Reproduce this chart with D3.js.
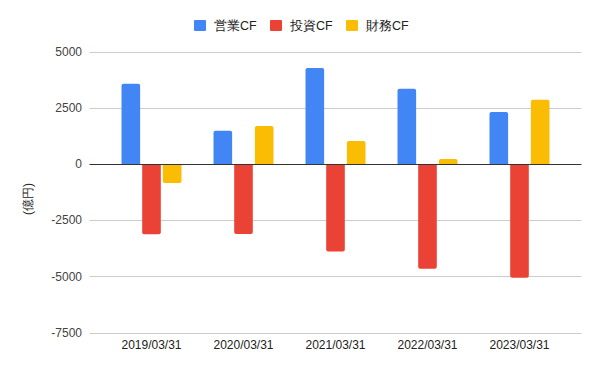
<html>
<head>
<meta charset="utf-8">
<script src="https://cdn.jsdelivr.net/npm/d3@7"></script>
<style>
  * { margin: 0; padding: 0; }
  body { background: #fff; }
  text { font-family: Arial, "Liberation Sans", sans-serif; }
</style>
</head>
<body>
<svg id="viz"></svg>
<script>
// data
var categories = ["2019/03/31", "2020/03/31", "2021/03/31", "2022/03/31", "2023/03/31"];
var seriesNames = ["営業CF", "投資CF", "財務CF"];
var eigyo = [3560, 1470, 4270, 3340, 2310];
var toushi = [-3130, -3120, -3900, -4660, -5060];
var zaimu = [-850, 1690, 1020, 220, 2850];
var yTicks = [-7500, -5000, -2500, 0, 2500, 5000];
var colors = ["#4285f4", "#ea4335", "#fbbc04"];

var values = [eigyo, toushi, zaimu];
var w = 600, h = 371;
var fontFam = "Arial, 'Liberation Sans', sans-serif";

var svg = d3.select("#viz").attr("width", w).attr("height", h);

var y = d3.scaleLinear().domain([-7500, 5000]).range([332.5, 51.5]);
var x0 = d3.scaleBand().domain(categories).range([89.5, 581.5])
    .paddingInner(0.348).paddingOuter(0.348);
var x1 = d3.scaleBand().domain(seriesNames).range([0, x0.bandwidth()]).paddingInner(0.1);

// gridlines
svg.append("g").selectAll("line").data(yTicks.filter(d => d != 0)).join("line")
    .attr("x1", 89.5).attr("x2", 581.5)
    .attr("y1", d => Math.round(y(d)) + 0.5).attr("y2", d => Math.round(y(d)) + 0.5)
    .attr("stroke", "#cccccc").attr("stroke-width", 1);

// y tick labels
var yAxis = d3.axisLeft(y).tickValues(yTicks).tickSize(0).tickPadding(0)
    .tickFormat(d => String(d));
var ya = svg.append("g").attr("transform", "translate(82,0)").call(yAxis);
ya.select(".domain").remove();
ya.selectAll("text").attr("font-size", 12).attr("fill", "#444")
    .attr("font-family", fontFam);

// bars with rounded far end
function barPath(xp, bw, v) {
    var r = 2;
    var y0 = y(0), y1 = y(v);
    var s = v >= 0 ? 1 : -1;
    return "M" + xp + "," + y0 + "V" + (y1 + s * r) + "Q" + xp + "," + y1 + " " + (xp + r) + "," + y1 +
        "H" + (xp + bw - r) + "Q" + (xp + bw) + "," + y1 + " " + (xp + bw) + "," + (y1 + s * r) + "V" + y0 + "Z";
}

var bars = [];
categories.forEach(function (c, i) {
    seriesNames.forEach(function (s, j) {
        bars.push({ cat: c, s: s, j: j, v: values[j][i] });
    });
});

svg.append("g").selectAll("path").data(bars).join("path")
    .attr("d", d => barPath(x0(d.cat) + x1(d.s), x1.bandwidth(), d.v))
    .attr("fill", d => colors[d.j]);

// zero line
svg.append("line")
    .attr("x1", 89.5).attr("x2", 581.5)
    .attr("y1", Math.round(y(0)) + 0.5).attr("y2", Math.round(y(0)) + 0.5)
    .attr("stroke", "#333").attr("stroke-width", 1);

// x labels
var xAxis = d3.axisBottom(x0).tickSize(0).tickPadding(0);
var xa = svg.append("g").attr("transform", "translate(0,340)").call(xAxis);
xa.select(".domain").remove();
xa.selectAll("text").attr("font-size", 12).attr("fill", "#222")
    .attr("font-family", fontFam);

// y axis title
svg.append("text")
    .attr("transform", "translate(32,199) rotate(-90)")
    .attr("text-anchor", "middle")
    .attr("font-size", 12).attr("fill", "#222")
    .text("(億円)");

// legend
var legX = [194, 270, 346];
var leg = svg.append("g").selectAll("g").data(seriesNames).join("g")
    .attr("transform", (d, i) => "translate(" + legX[i] + ",20)");
leg.append("rect").attr("width", 12).attr("height", 11).attr("rx", 1).attr("fill", (d, i) => colors[i]);
leg.append("text").attr("x", 20).attr("y", 10).attr("font-size", 12.5).attr("fill", "#222")
    .text(d => d);
</script>
</body>
</html>
